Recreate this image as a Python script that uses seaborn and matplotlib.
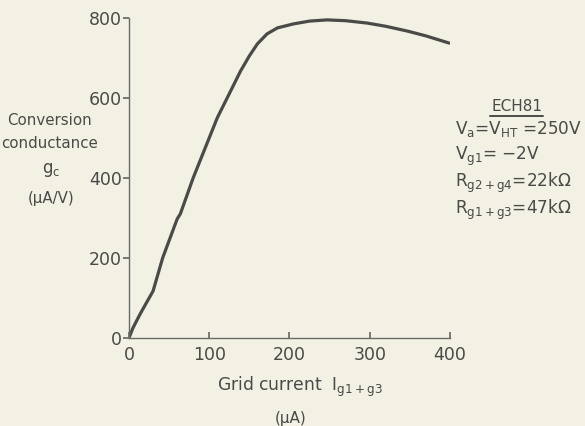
import matplotlib.pyplot as plt
import seaborn as sns

# values (ECH81 conversion conductance)
grid_current = [0, 5, 14, 30, 42, 60, 64, 80, 110, 139, 150, 160, 172, 185, 205, 225, 247, 270, 297, 320, 347, 370, 399]
conductance = [0, 25, 60, 117, 200, 297, 310, 400, 550, 667, 705, 735, 760, 775, 785, 792, 795, 793, 787, 779, 767, 755, 737]
x_ticks = [0, 100, 200, 300, 400]
y_ticks = [0, 200, 400, 600, 800]

notes = [
    r'$V_a$=$V_{HT}$ =250V',
    r'$V_{g1}$= $-$2V',
    r'$R_{g2+g4}$=22k$\Omega$',
    r'$R_{g1+g3}$=47k$\Omega$',
]

sns.set_theme(style='ticks')
plt.rcParams['font.family'] = ['DejaVu Sans']
plt.rcParams['mathtext.default'] = 'regular'

bg = '#f2f1e3'
ink = '#4a4a48'

fig = plt.figure(figsize=(5.85, 4.26), dpi=100, facecolor=bg)
ax = fig.add_axes([0.2205, 0.207, 0.5487, 0.751])
ax.set_facecolor(bg)

sns.lineplot(x=grid_current, y=conductance, ax=ax, color=ink, linewidth=2.3)

ax.set_xlim(0, 400)
ax.set_ylim(0, 800)
ax.set_xticks(x_ticks)
ax.set_yticks(y_ticks)
sns.despine(ax=ax)
for side in ['left', 'bottom']:
    ax.spines[side].set_color('#6a6a66')
    ax.spines[side].set_linewidth(1.0)
ax.tick_params(axis='y', direction='out', length=4, color='#6a6a66', labelsize=12.5, labelcolor=ink, pad=1)
ax.tick_params(axis='x', direction='in', length=4, color='#6a6a66', labelsize=12.5, labelcolor=ink, pad=6)

# y axis label, stacked to the left of the ticks
fig.text(0.085, 0.718, 'Conversion', ha='center', va='center', fontsize=10.8, color=ink)
fig.text(0.085, 0.664, 'conductance', ha='center', va='center', fontsize=10.8, color=ink)
fig.text(0.087, 0.601, r'$g_c$', ha='center', va='center', fontsize=12, color=ink)
fig.text(0.087, 0.535, '(µA/V)', ha='center', va='center', fontsize=10.8, color=ink)

fig.text(0.513, 0.092, r'Grid current  $I_{g1+g3}$', ha='center', va='center', fontsize=12.3, color=ink)
fig.text(0.497, 0.018, '(µA)', ha='center', va='center', fontsize=11, color=ink)

fig.text(0.883, 0.749, 'ECH81', ha='center', va='center', fontsize=11, color=ink)
fig.add_artist(plt.Line2D([0.838, 0.928], [0.727, 0.727], color=ink, linewidth=1.4))
for i, note in enumerate(notes):
    fig.text(0.778, 0.697 - i * 0.0634, note, ha='left', va='center', fontsize=12.2, color=ink)

fig.savefig('out.png', dpi=100, facecolor=bg)
